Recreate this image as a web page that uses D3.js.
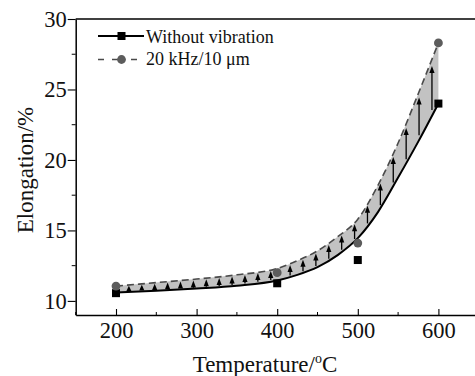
<!DOCTYPE html>
<html>
<head>
<meta charset="utf-8">
<script src="https://cdn.jsdelivr.net/npm/d3@7"></script>
<style>
  body { margin: 0; background: #fff; }
  svg { display: block; overflow: hidden; }
  text { font-family: "Liberation Serif", "Times New Roman", serif; fill: #111; }
</style>
</head>
<body>
<svg id="chart" width="475" height="376"></svg>
<script>
// measured points
const temps = [200, 400, 500, 600];
const plainVals = [10.55, 11.25, 12.9, 24.0];
const vibVals = [11.05, 12.0, 14.1, 28.3];

// fitted curves
const fitTemps = [200, 250, 300, 350, 400, 425, 450, 475, 500, 525, 550, 575, 600];
const fitPlain = [10.6, 10.72, 10.88, 11.08, 11.45, 11.85, 12.4, 13.25, 14.45, 16.3, 18.75, 21.3, 24.0];
const fitVib = [11.05, 11.3, 11.55, 11.85, 12.3, 12.85, 13.55, 14.55, 15.8, 18.2, 21.2, 24.7, 28.3];

// arrows inside the band
const arrowTemps = [216, 232, 248, 264, 280, 296, 312, 328, 344, 360, 376, 392,
                    416, 432, 448, 464, 480, 496, 512, 528, 544, 560, 576, 592];

const xTicks = [200, 300, 400, 500, 600];
const xMinor = [150, 250, 350, 450, 550];
const yTicks = [10, 15, 20, 25, 30];
const yMinor = [12.5, 17.5, 22.5, 27.5];

var svg = d3.select('#chart'),
    mLeft = 75.7, mRight = 478.7, mTop = 19, mBottom = 315;

var x = d3.scaleLinear().domain([150, 650]).range([mLeft, mRight]);
var y = d3.scaleLinear().domain([9, 30]).range([mBottom, mTop]);

var band = fitTemps.map(function(t, i) { return { t: t, lo: fitPlain[i], hi: fitVib[i] }; });

// grey band between the fits
var area = d3.area()
    .x(function(d) { return x(d.t); })
    .y0(function(d) { return y(d.lo); })
    .y1(function(d) { return y(d.hi); })
    .curve(d3.curveMonotoneX);

svg.append("path")
    .datum(band)
    .attr("d", area)
    .attr("fill", "#c2c2c2");

// arrows
var loAt = d3.scaleLinear().domain(fitTemps).range(fitPlain);
var hiAt = d3.scaleLinear().domain(fitTemps).range(fitVib);

var ag = svg.append("g");
arrowTemps.forEach(function(t) {
  var lo = loAt(t), hi = hiAt(t), gap = hi - lo;
  var px = x(t),
      y0 = y(lo + 0.1 * gap),
      y1 = y(hi - 0.12 * gap),
      hl = Math.min(7, y0 - y1);
  if (y0 - y1 > hl) {
    ag.append("line")
      .attr("x1", px).attr("x2", px)
      .attr("y1", y0).attr("y2", y1 + hl - 0.5)
      .attr("stroke", "#000").attr("stroke-width", 1.3);
  }
  ag.append("path")
    .attr("d", "M" + px + "," + y1 + "L" + (px - 2.6) + "," + (y1 + hl) + "L" + (px + 2.6) + "," + (y1 + hl) + "Z")
    .attr("fill", "#000");
});

// fit lines
var line = function(key) {
  return d3.line()
    .x(function(d) { return x(d.t); })
    .y(function(d) { return y(d[key]); })
    .curve(d3.curveMonotoneX);
};

svg.append("path")
    .datum(band)
    .attr("d", line("lo"))
    .attr("fill", "none")
    .attr("stroke", "#000")
    .attr("stroke-width", 2);

svg.append("path")
    .datum(band)
    .attr("d", line("hi"))
    .attr("fill", "none")
    .attr("stroke", "#4a4a4a")
    .attr("stroke-width", 1.6)
    .attr("stroke-dasharray", "7,4");

// markers
svg.append("g").selectAll("rect")
    .data(temps)
    .enter().append("rect")
      .attr("x", function(d) { return x(d) - 4; })
      .attr("y", function(d, i) { return y(plainVals[i]) - 4; })
      .attr("width", 8).attr("height", 8)
      .attr("fill", "#000");

svg.append("g").selectAll("circle")
    .data(temps)
    .enter().append("circle")
      .attr("cx", function(d) { return x(d); })
      .attr("cy", function(d, i) { return y(vibVals[i]); })
      .attr("r", 4.4)
      .attr("fill", "#5c5c5c");

// frame
svg.append("line")
    .attr("x1", mLeft).attr("x2", mRight)
    .attr("y1", mTop).attr("y2", mTop)
    .attr("stroke", "#000").attr("stroke-width", 1.5);
svg.append("line")
    .attr("x1", mRight).attr("x2", mRight)
    .attr("y1", mTop).attr("y2", mBottom)
    .attr("stroke", "#000").attr("stroke-width", 1.5);

// left axis
var yAxis = svg.append("g")
    .attr("transform", "translate(" + mLeft + ",0)")
    .call(d3.axisLeft(y).tickValues(yTicks).tickSize(8).tickSizeOuter(0).tickPadding(1));
yAxis.selectAll(".tick text").attr("font-size", 22.5).attr("fill", "#111");
yAxis.append("g").selectAll("line")
    .data(yMinor)
    .enter().append("line")
      .attr("x1", -4).attr("x2", 0)
      .attr("y1", function(d) { return y(d); })
      .attr("y2", function(d) { return y(d); })
      .attr("stroke", "#000");

// bottom axis, ticks pointing in
var xAxis = svg.append("g")
    .attr("transform", "translate(0," + mBottom + ")")
    .call(d3.axisBottom(x).tickValues(xTicks).tickSize(-6).tickSizeOuter(0).tickPadding(7));
xAxis.selectAll(".tick text").attr("font-size", 22.5).attr("fill", "#111");
xAxis.append("g").selectAll("line")
    .data(xMinor)
    .enter().append("line")
      .attr("x1", function(d) { return x(d); })
      .attr("x2", function(d) { return x(d); })
      .attr("y1", -3).attr("y2", 0)
      .attr("stroke", "#000");

svg.selectAll(".domain").attr("stroke-width", 1.5);
svg.selectAll(".tick line").attr("stroke-width", 1.1);

// axis titles
var xt = svg.append("text")
    .attr("x", 265).attr("y", 371.5)
    .attr("text-anchor", "middle")
    .attr("font-size", 23);
xt.append("tspan").text("Temperature/");
xt.append("tspan").attr("font-size", 14).attr("dy", -9).text("o");
xt.append("tspan").attr("dy", 9).text("C");

svg.append("text")
    .attr("transform", "translate(33,170) rotate(-90)")
    .attr("text-anchor", "middle")
    .attr("font-size", 23)
    .text("Elongation/%");

// legend
var lg = svg.append("g");
lg.append("line")
    .attr("x1", 98).attr("x2", 144).attr("y1", 36).attr("y2", 36)
    .attr("stroke", "#000").attr("stroke-width", 2);
lg.append("rect")
    .attr("x", 117.5).attr("y", 32).attr("width", 8).attr("height", 8)
    .attr("fill", "#000");
lg.append("text")
    .attr("x", 146).attr("y", 42.5)
    .attr("font-size", 18)
    .text("Without vibration");

lg.append("line")
    .attr("x1", 98).attr("x2", 144).attr("y1", 59.5).attr("y2", 59.5)
    .attr("stroke", "#4a4a4a").attr("stroke-width", 1.6)
    .attr("stroke-dasharray", "6,8,5,0,6,8");
lg.append("circle")
    .attr("cx", 121.5).attr("cy", 59.5).attr("r", 4.4)
    .attr("fill", "#5c5c5c");
lg.append("text")
    .attr("x", 146).attr("y", 64.5)
    .attr("font-size", 18)
    .text("20 kHz/10 μm");
</script>
</body>
</html>
